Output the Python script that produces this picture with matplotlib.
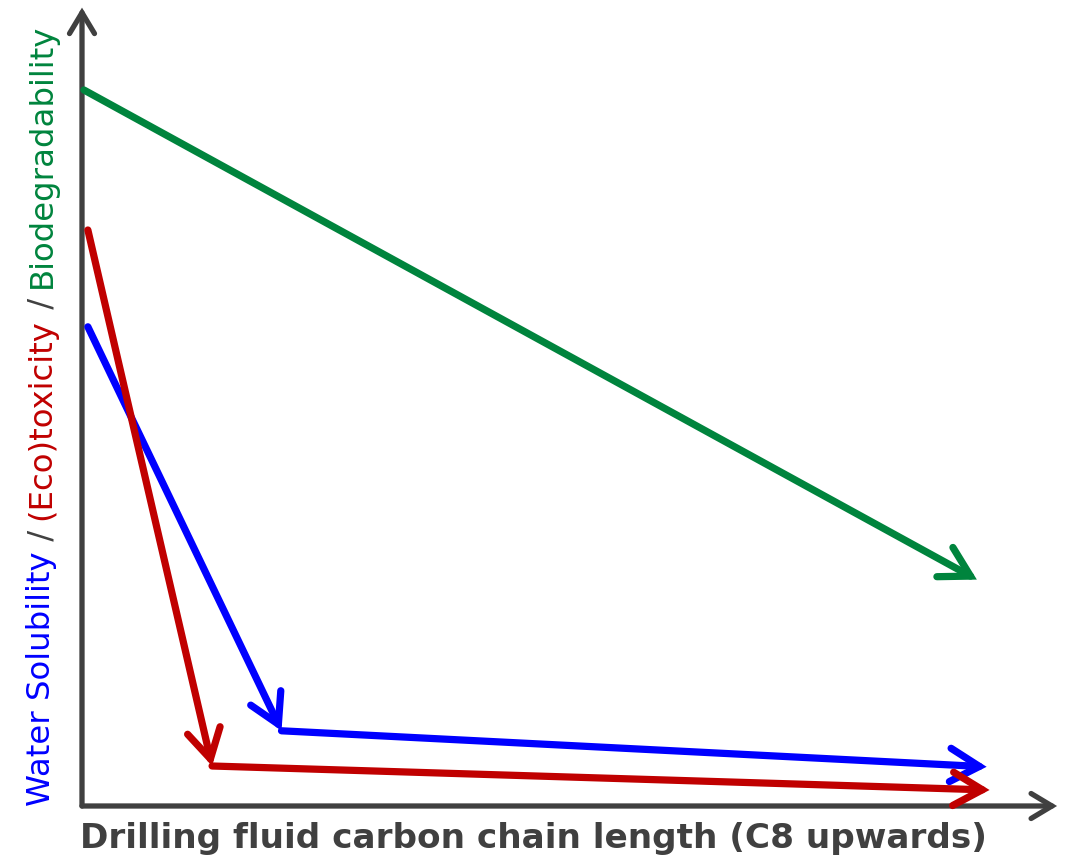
import matplotlib.pyplot as plt

# 数据（相对刻度 0-100）
green_x = [0.2, 91.5]
green_y = [89.5, 28.3]
red_x = [0.6, 13.3, 92.8]
red_y = [72.0, 5.0, 2.0]
blue_x = [0.6, 20.4, 92.5]
blue_y = [59.9, 9.4, 4.9]

xlabel = 'Drilling fluid carbon chain length (C8 upwards)'
ylabel_parts = [('Water Solubility', '#0000FF'), (' / ', '#404040'),
                ('(Eco)toxicity', '#C00000'), (' / ', '#404040'),
                ('Biodegradability', '#00843D')]

fig = plt.figure(figsize=(10.76, 8.63), dpi=100)
ax = fig.add_axes([82/1076, 57/863, 978/1076, 800/863])
ax.set_xlim(0, 100)
ax.set_ylim(0, 100)
ax.axis('off')

axis_col = '#404040'
for tip in [(99.7, 0), (0, 99.8)]:
    ax.annotate('', xy=tip, xytext=(0, 0),
                arrowprops=dict(arrowstyle='->,head_length=0.75,head_width=0.45', lw=3.8,
                                color=axis_col, shrinkA=0, shrinkB=0, mutation_scale=20,
                                capstyle='round', joinstyle='miter'),
                annotation_clip=False)


def draw_path(xs, ys, col):
    for i in range(len(xs) - 1):
        ax.annotate('', xy=(xs[i+1], ys[i+1]), xytext=(xs[i], ys[i]),
                    arrowprops=dict(arrowstyle='->,head_length=1.05,head_width=0.6', lw=5.2,
                                    color=col, shrinkA=0, shrinkB=0, mutation_scale=20,
                                    capstyle='round', joinstyle='miter'),
                    annotation_clip=False)


draw_path(green_x, green_y, '#00843D')
draw_path(blue_x, blue_y, '#0000FF')
draw_path(red_x, red_y, '#C00000')

# x 轴标签
fig.text(80/1076, 1 - 838/863, xlabel, fontsize=24.7, fontweight='bold',
         color=axis_col, va='center', ha='left', family='DejaVu Sans')

# y 轴标签，多颜色拼接
fig.canvas.draw()
r = fig.canvas.get_renderer()
ypos = 806
for txt, col in ylabel_parts:
    t = fig.text(42/1076, 1 - ypos/863, txt, rotation=90, fontsize=23.3, color=col,
                 va='bottom', ha='center', family='DejaVu Sans')
    bb = t.get_window_extent(r)
    ypos -= bb.height

fig.savefig('out.png', dpi=100)
